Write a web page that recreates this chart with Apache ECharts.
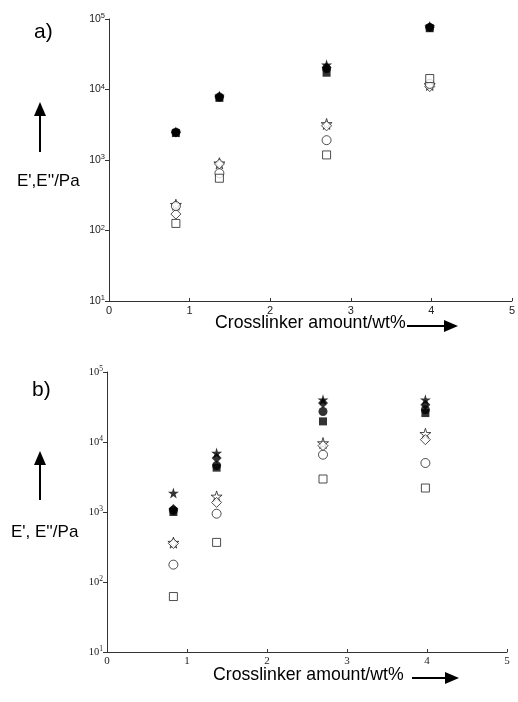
<!DOCTYPE html>
<html><head><meta charset="utf-8">
<script src="https://cdn.jsdelivr.net/npm/echarts@6/dist/echarts.min.js"></script>
<style>html,body{margin:0;padding:0;background:#fff}#c{width:518px;height:702px}</style>
</head><body><div id="c"></div>
<script>
// ---- data ----
const xA = [0.83, 1.37, 2.7, 3.98];
const xB = [0.83, 1.37, 2.7, 3.98];
const xTicks = [0, 1, 2, 3, 4, 5];
const yTicks = [10, 100, 1000, 10000, 100000];
// panel a) storage (filled) and loss (open) moduli
const aFilledStar    = [2500, 8100, 22400, 78000];
const aFilledDiamond = [2450, 7900, 20500, 77000];
const aFilledCircle  = [2480, 7800, 19700, 76000];
const aFilledSquare  = [2420, 7600, 17300, 74000];
const aOpenStar      = [232, 900, 3250, 11600];
const aOpenDiamond   = [171, 880, 3050, 11000];
const aOpenCircle    = [222, 649, 1910, 12000];
const aOpenSquare    = [126, 551, 1180, 14300];
// panel b)
const bFilledStar    = [1870, 6960, 40200, 40200];
const bFilledDiamond = [1100, 5900, 36000, 34100];
const bFilledCircle  = [1050, 4600, 27300, 28900];
const bFilledSquare  = [1000, 4300, 19700, 25900];
const bOpenStar      = [365, 1670, 9670, 13100];
const bOpenDiamond   = [355, 1370, 8860, 10800];
const bOpenCircle    = [177, 946, 6590, 5010];
const bOpenSquare    = [62, 368, 2960, 2200];

const STAR = 'path://M50,0 L61,35 L98,35 L68,57 L79,91 L50,70 L21,91 L32,57 L2,35 L39,35 Z';

function pts(xs, ys){ return xs.map((x,i)=>[x, ys[i]]); }
function ser(idx, xs, ys, sym, filled, size){
  return {
    type:'scatter', xAxisIndex:idx, yAxisIndex:idx, data: pts(xs, ys),
    symbol: sym, symbolSize: size,
    itemStyle: filled ? {color:'#000'} : {color:'#fff', borderColor:'#222', borderWidth:1},
    z: filled ? 3 : 4
  };
}
function seriesFor(idx, xs, d){
  return [
    ser(idx, xs, d[0], STAR, true, 11),
    ser(idx, xs, d[1], 'diamond', true, 10),
    ser(idx, xs, d[2], 'circle', true, 9),
    ser(idx, xs, d[3], 'rect', true, 8),
    ser(idx, xs, d[4], STAR, false, 11),
    ser(idx, xs, d[5], 'diamond', false, 10),
    ser(idx, xs, d[6], 'circle', false, 9),
    ser(idx, xs, d[7], 'rect', false, 8)
  ];
}
function xAx(idx, font){
  return {type:'value', gridIndex:idx, min:xTicks[0], max:xTicks[xTicks.length-1], interval:1,
    axisLine:{lineStyle:{color:'#333', width:1}},
    axisTick:{inside:true, length:3, lineStyle:{color:'#333'}},
    splitLine:{show:false},
    axisLabel:{fontFamily:font, fontSize:11, color:'#222', margin:4}};
}
function yAx(idx, font){
  return {type:'log', logBase:10, gridIndex:idx, min:yTicks[0], max:yTicks[yTicks.length-1],
    axisLine:{show:true, lineStyle:{color:'#333', width:1}},
    axisTick:{show:true, length:4, lineStyle:{color:'#333'}},
    minorTick:{show:false}, splitLine:{show:false},
    axisLabel:{fontFamily:font, fontSize:10.5, color:'#222', margin:4,
      formatter: v => '10{s|' + Math.round(Math.log10(v)) + '}',
      rich:{s:{fontFamily:font, fontSize:7.5, color:'#222', verticalAlign:'top', padding:[0,0,6,0]}}}};
}
function arrowV(x, yTop, yBot){
  return [
    {type:'line', shape:{x1:x, y1:yBot, x2:x, y2:yTop+12}, style:{stroke:'#000', lineWidth:2}},
    {type:'polygon', shape:{points:[[x, yTop],[x-6, yTop+14],[x+6, yTop+14]]}, style:{fill:'#000'}}
  ];
}
function arrowH(x1, x2, y){
  return [
    {type:'line', shape:{x1:x1, y1:y, x2:x2-12, y2:y}, style:{stroke:'#000', lineWidth:2}},
    {type:'polygon', shape:{points:[[x2, y],[x2-14, y-6],[x2-14, y+6]]}, style:{fill:'#000'}}
  ];
}
const tf = 'Liberation Sans, Arial, sans-serif';
const sf = 'Liberation Serif, Times New Roman, serif';
const chart = echarts.init(document.getElementById('c'));
chart.setOption({
  animation:false,
  grid:[
    {left:109, top:19, width:405, height:282},
    {left:107, top:372, width:400, height:280}
  ],
  xAxis:[xAx(0, tf), xAx(1, sf)],
  yAxis:[yAx(0, tf), yAx(1, sf)],
  series:[
    ...seriesFor(0, xA, [aFilledStar,aFilledDiamond,aFilledCircle,aFilledSquare,aOpenStar,aOpenDiamond,aOpenCircle,aOpenSquare]),
    ...seriesFor(1, xB, [bFilledStar,bFilledDiamond,bFilledCircle,bFilledSquare,bOpenStar,bOpenDiamond,bOpenCircle,bOpenSquare])
  ],
  graphic:[
    {type:'text', left:34, top:22, style:{text:'a)', font:'21px Liberation Sans', fill:'#000'}},
    {type:'text', left:32, top:380, style:{text:'b)', font:'21px Liberation Sans', fill:'#000'}},
    {type:'text', left:17, top:173, style:{text:"E',E''/Pa", font:'17px Liberation Sans', fill:'#000'}},
    {type:'text', left:11, top:524, style:{text:"E', E''/Pa", font:'17px Liberation Sans', fill:'#000'}},
    {type:'text', left:215, top:314, style:{text:'Crosslinker amount/wt%', font:'17.7px Liberation Sans', fill:'#000'}},
    {type:'text', left:213, top:666, style:{text:'Crosslinker amount/wt%', font:'17.7px Liberation Sans', fill:'#000'}},
    ...arrowV(40, 102, 152),
    ...arrowV(40, 451, 500),
    ...arrowH(407, 458, 326),
    ...arrowH(412, 459, 678)
  ]
});
</script></body></html>
